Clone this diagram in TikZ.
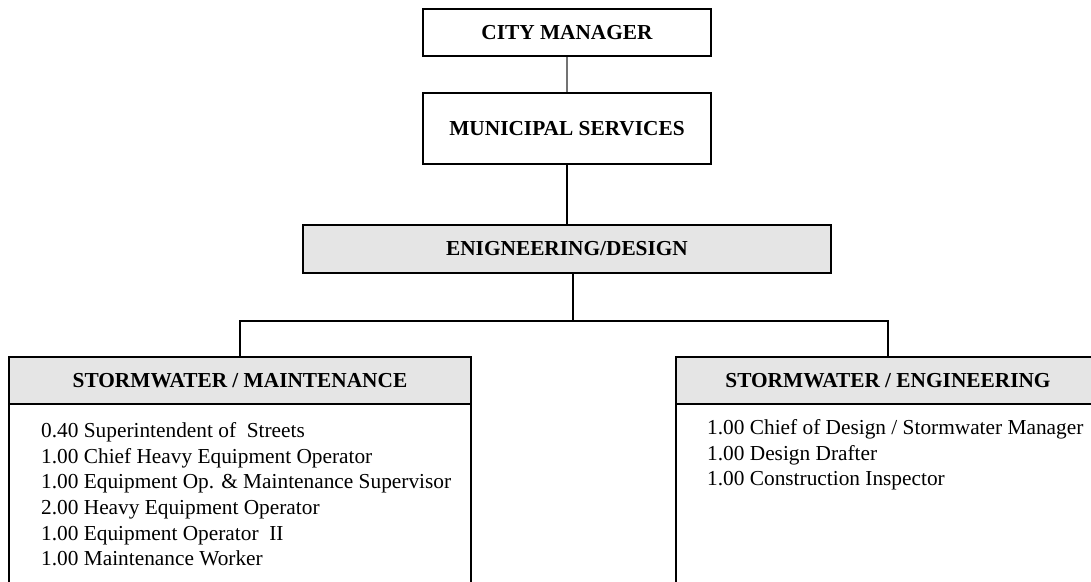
\documentclass[tikz,border=0pt]{standalone}
\usepackage{fontspec}
\setmainfont{Liberation Serif}
\begin{document}
\begin{tikzpicture}[x=1pt,y=-1pt, line join=miter,
  box/.style={draw, line width=2pt, font=\bfseries\fontsize{21.33}{25.6}\selectfont, inner sep=0pt},
  shaded/.style={box, fill=black!10},
  plainbox/.style={draw, line width=2pt, inner sep=0pt},
  conn/.style={line width=2pt},
  thinconn/.style={line width=1.2pt, draw=black!55},
  listtext/.style={font=\fontsize{21.33}{25.6}\selectfont, align=left, inner sep=0pt, anchor=north west}]
\useasboundingbox (0,0) rectangle (1091,581);
% top chain
\node[box, minimum width=288, minimum height=47] (cm) at (567,32.5) {CITY MANAGER};
\node[box, minimum width=288, minimum height=71] (ms) at (567,128.5) {MUNICIPAL SERVICES};
\node[shaded, minimum width=528, minimum height=48] (eng) at (567,249) {ENIGNEERING/DESIGN};
% lower boxes
\node[plainbox, minimum width=462, minimum height=216] (lb) at (240,512) {};
\node[shaded, minimum width=462, minimum height=47] (lh) at (240,380.5) {STORMWATER / MAINTENANCE};
\node[plainbox, minimum width=424, minimum height=216] (rb) at (888,512) {};
\node[shaded, minimum width=424, minimum height=47] (rh) at (888,380.5) {STORMWATER / ENGINEERING};
% lists
\node[listtext] (ll) at (41,422.5) {0.40 Superintendent of~~Streets\\
1.00 Chief Heavy Equipment Operator\\
1.00 Equipment Op. \& Maintenance Supervisor\\
2.00 Heavy Equipment Operator\\
1.00 Equipment Operator~~II\\
1.00 Maintenance Worker};
\node[listtext] (rl) at (707,419.5) {1.00 Chief of Design / Stormwater Manager\\
1.00 Design Drafter\\
1.00 Construction Inspector};
% connectors
\coordinate (j) at (573,321);
\draw[thinconn] (cm.south) -- (ms.north);
\draw[conn] (ms.south) -- (eng.north);
\draw[conn] (eng.south -| j) -- (j);
\draw[conn] (lh.north) -- (lh.north |- j) -- (rh.north |- j) -- (rh.north);
\end{tikzpicture}
\end{document}
